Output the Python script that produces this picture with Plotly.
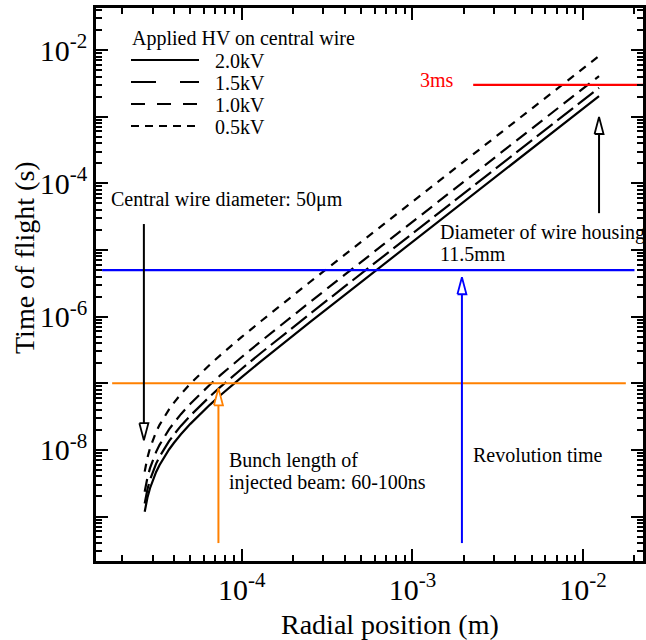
import plotly.graph_objects as go
import math

# ---------------- data ----------------
R_M = [2.70e-5, 2.75e-5, 2.80e-5, 2.90e-5, 3.00e-5, 3.15e-5, 3.30e-5, 3.50e-5,
       3.75e-5, 4.00e-5, 4.40e-5, 5.00e-5, 5.70e-5, 6.50e-5, 7.50e-5, 8.70e-5,
       1.00e-4, 1.30e-4, 1.70e-4, 2.50e-4, 4.00e-4, 7.00e-4, 1.20e-3, 2.50e-3,
       5.00e-3, 1.24e-2]

T_2KV = [1.18e-9, 1.54e-9, 1.91e-9, 2.66e-9, 3.45e-9, 4.67e-9, 5.95e-9, 7.75e-9,
         1.015e-8, 1.27e-8, 1.72e-8, 2.46e-8, 3.46e-8, 4.75e-8, 6.61e-8, 9.18e-8,
         1.24e-7, 2.15e-7, 3.74e-7, 8.20e-7, 2.11e-6, 6.48e-6, 1.91e-5, 8.28e-5,
         3.31e-4, 2.037e-3]

T_15KV = [1.57e-9, 2.05e-9, 2.55e-9, 3.55e-9, 4.60e-9, 6.23e-9, 7.93e-9, 1.033e-8,
          1.353e-8, 1.69e-8, 2.29e-8, 3.28e-8, 4.61e-8, 6.33e-8, 8.81e-8, 1.224e-7,
          1.653e-7, 2.87e-7, 4.99e-7, 1.093e-6, 2.81e-6, 8.64e-6, 2.55e-5, 1.104e-4,
          4.41e-4, 2.716e-3]

T_1KV = [2.36e-9, 3.08e-9, 3.82e-9, 5.32e-9, 6.90e-9, 9.34e-9, 1.19e-8, 1.55e-8,
         2.03e-8, 2.54e-8, 3.44e-8, 4.92e-8, 6.92e-8, 9.50e-8, 1.322e-7, 1.836e-7,
         2.48e-7, 4.30e-7, 7.48e-7, 1.64e-6, 4.22e-6, 1.296e-5, 3.82e-5, 1.656e-4,
         6.62e-4, 4.074e-3]

T_05KV = [4.72e-9, 6.16e-9, 7.64e-9, 1.064e-8, 1.38e-8, 1.868e-8, 2.38e-8, 3.10e-8,
          4.06e-8, 5.08e-8, 6.88e-8, 9.84e-8, 1.384e-7, 1.90e-7, 2.644e-7, 3.672e-7,
          4.96e-7, 8.60e-7, 1.496e-6, 3.28e-6, 8.44e-6, 2.592e-5, 7.64e-5, 3.312e-4,
          1.324e-3, 8.148e-3]

SERIES_NAMES = ["2.0kV", "1.5kV", "1.0kV", "0.5kV"]
SERIES_VALUES = [T_2KV, T_15KV, T_1KV, T_05KV]

REVOLUTION_TIME = 5e-6     # s
BUNCH_LENGTH = 1e-7        # s
LIMIT_3MS = 3e-3           # s
WIRE_RADIUS_MARK = 2.67e-5  # m
HOUSING_MARK = 1.24e-2      # m
REV_ARROW_X = 1.95e-3       # m
BUNCH_ARROW_X = 7.3e-5      # m

X_TICKS = [1e-4, 1e-3, 1e-2]
X_TICKTEXT = ["10<sup>-4</sup>", "10<sup>-3</sup>", "10<sup>-2</sup>"]
Y_TICKS = [1e-8, 1e-6, 1e-4, 1e-2]
Y_TICKTEXT = ["10<sup>-8</sup>", "10<sup>-6</sup>", "10<sup>-4</sup>", "10<sup>-2</sup>"]
Y_DECADES = [1e-9, 1e-8, 1e-7, 1e-6, 1e-5, 1e-4, 1e-3, 1e-2]

# ---------------- layout geometry ----------------
W, H = 646, 640
ML, MR, MT, MB = 96, 3, 8, 79
PW, PH = W - ML - MR, H - MT - MB
XR = [-4.854, -1.649]
YR = [-9.667, -1.369]
DX = (XR[1] - XR[0]) / PW   # decades per px
DY = (YR[1] - YR[0]) / PH

FONT = "Liberation Serif"
BLUE = "#0000ff"
ORANGE = "#ff8000"
RED = "#ff0000"


def px_x(p):
    return (p - ML) / PW


def px_y(p):
    return (H - MB - p) / PH


fig = go.Figure()

dashes = ["solid", "20px,6px", "13px,7px", "8px,7px"]
for name, vals, dash in zip(SERIES_NAMES, SERIES_VALUES, dashes):
    fig.add_trace(go.Scatter(x=R_M, y=vals, mode="lines", name=name,
                             line=dict(color="black", width=2.2, dash=dash),
                             showlegend=False, hoverinfo="skip"))

# horizontal reference lines
fig.add_trace(go.Scatter(x=[1.52e-5, 2.0e-2], y=[REVOLUTION_TIME] * 2, mode="lines",
                         line=dict(color=BLUE, width=2.2), showlegend=False, hoverinfo="skip"))
fig.add_trace(go.Scatter(x=[1.74e-5, 1.78e-2], y=[BUNCH_LENGTH] * 2, mode="lines",
                         line=dict(color=ORANGE, width=2.2), showlegend=False, hoverinfo="skip"))
fig.add_trace(go.Scatter(x=[2.27e-3, 2.5e-2], y=[LIMIT_3MS] * 2, mode="lines",
                         line=dict(color=RED, width=2.2), showlegend=False, hoverinfo="skip"))


def arrow(x, y_from, y_tip, color, head_h=17, head_w=4.5):
    up = y_tip > y_from
    lt = math.log10(y_tip)
    lb = lt - head_h * DY if up else lt + head_h * DY
    base = 10 ** lb
    lx = math.log10(x)
    xl, xr = 10 ** (lx - head_w * DX), 10 ** (lx + head_w * DX)
    fig.add_trace(go.Scatter(x=[x, x], y=[y_from, base], mode="lines",
                             line=dict(color=color, width=2), showlegend=False, hoverinfo="skip"))
    fig.add_trace(go.Scatter(x=[xl, x, xr, xl], y=[base, y_tip, base, base], mode="lines",
                             fill="toself", fillcolor="white",
                             line=dict(color=color, width=1.8), showlegend=False, hoverinfo="skip"))


arrow(WIRE_RADIUS_MARK, 2.45e-5, 1.4e-8, "black")
arrow(HOUSING_MARK, 3.57e-5, 9.9e-4, "black")
arrow(REV_ARROW_X, 4e-10, 3.9e-6, BLUE)
arrow(BUNCH_ARROW_X, 4e-10, 8.4e-8, ORANGE)

annotations = []


def text(s, xp, yp, size=20, color="black", anchor="left", angle=0):
    annotations.append(dict(text=s, x=px_x(xp), y=px_y(yp), xref="paper", yref="paper",
                            xanchor=anchor, yanchor="middle", showarrow=False,
                            textangle=angle, font=dict(family=FONT, size=size, color=color)))


# legend (manual)
text("Applied HV on central wire", 130, 39)
leg_y = [60, 82, 104, 126]
leg_dash = ["solid", "25px,24px", "14px,12px", "8px,6px"]
shapes = []
for name, yy, dsh in zip(SERIES_NAMES, leg_y, leg_dash):
    shapes.append(dict(type="line", xref="paper", yref="paper", x0=px_x(131), x1=px_x(199),
                       y0=px_y(yy), y1=px_y(yy), line=dict(color="black", width=2.2, dash=dsh)))
    text(name, 213, yy + 1)

text("3ms", 437, 80, color=RED, anchor="center")
text("Central wire diameter: 50\u03bcm", 109, 200)
text("Diameter of wire housing", 438, 232)
text("11.5mm", 438, 254)
text("Bunch length of", 227, 460)
text("injected beam: 60-100ns", 227, 482)
text("Revolution time", 471, 455)

# axis titles
text("Radial position (m)", 390, 624, size=28, anchor="center")
text("Time of flight (s)", 24, 258, size=28, anchor="center", angle=-90)

x_minor = [m * 10 ** e for e in range(-5, -1) for m in range(2, 10)]
y_minor = [m * 10 ** e for e in range(-10, -1) for m in range(2, 10)]

tick_common = dict(ticks="inside", ticklen=12, tickwidth=2, tickcolor="black",
                   showgrid=False, zeroline=False)

fig.update_layout(
    width=W, height=H,
    margin=dict(l=ML, r=MR, t=MT, b=MB, autoexpand=False),
    paper_bgcolor="white", plot_bgcolor="white",
    xaxis=dict(type="log", range=XR, tickmode="array", tickvals=X_TICKS, ticktext=X_TICKTEXT,
               showline=True, linecolor="black", linewidth=2.5, mirror="ticks",
               tickfont=dict(family=FONT, size=30, color="black"),
               minor=dict(ticks="inside", ticklen=6, tickwidth=2, tickcolor="black",
                          tickmode="array", tickvals=x_minor, showgrid=False),
               **tick_common),
    yaxis=dict(type="log", range=YR, tickmode="array", tickvals=Y_TICKS, ticktext=Y_TICKTEXT,
               showline=True, linecolor="black", linewidth=2.5, mirror="ticks",
               tickfont=dict(family=FONT, size=30, color="black"),
               minor=dict(ticks="inside", ticklen=6, tickwidth=2, tickcolor="black",
                          tickmode="array", tickvals=y_minor, showgrid=False),
               **tick_common),
    # unlabeled major ticks at every decade
    yaxis2=dict(type="log", range=YR, overlaying="y", side="left", tickmode="array",
                tickvals=Y_DECADES, showticklabels=False, showline=False, mirror="ticks",
                **tick_common),
    annotations=annotations,
    shapes=shapes,
    showlegend=False,
)

# invisible trace so the overlay axis is drawn
fig.add_trace(go.Scatter(x=[R_M[0]], y=[T_2KV[0]], yaxis="y2", mode="markers",
                         marker=dict(opacity=0), showlegend=False, hoverinfo="skip"))

fig.write_html("out.html", config={"displayModeBar": False})
